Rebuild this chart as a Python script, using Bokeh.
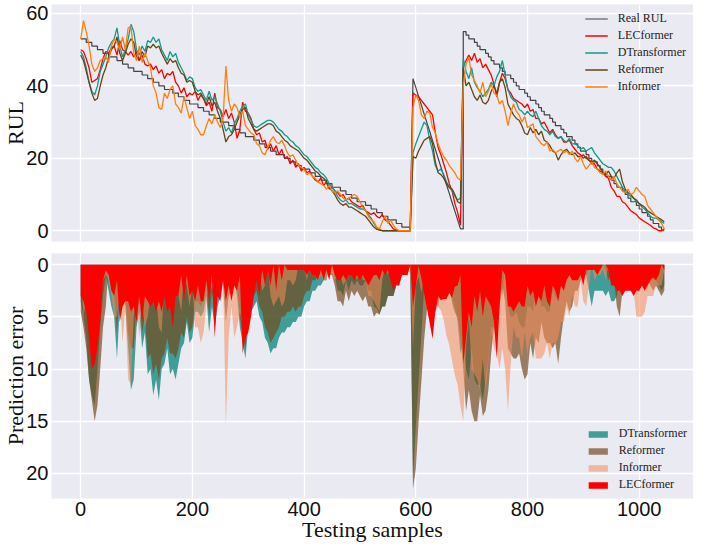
import numpy as np
from bokeh.plotting import figure
from bokeh.models import Range1d, FixedTicker, Legend, LegendItem, ColumnDataSource
from bokeh.layouts import column
from bokeh.embed import file_html
from bokeh.resources import INLINE

# ---------------- data ----------------
samples = list(range(0, 1046, 5))          # testing sample index
engine_first_sample = [0, 595, 685]        # where each test engine starts
x_ticks = [0, 200, 400, 600, 800, 1000]
rul_ticks = [0, 20, 40, 60]
err_ticks = [0, 5, 10, 15, 20]

real_rul = [
    53, 53, 52, 52, 51, 51, 50, 50, 49, 49,
    48, 48, 48, 47, 47, 46, 46, 45, 45, 44,
    44, 44, 43, 43, 42, 42, 41, 41, 40, 40,
    39, 39, 39, 38, 38, 37, 37, 36, 36, 35,
    35, 35, 34, 34, 33, 33, 32, 32, 31, 31,
    30, 30, 30, 29, 29, 28, 28, 27, 27, 26,
    26, 26, 25, 25, 24, 24, 23, 23, 22, 22,
    21, 21, 21, 20, 20, 19, 19, 18, 18, 17,
    17, 17, 16, 16, 15, 15, 14, 14, 13, 13,
    12, 12, 12, 11, 11, 10, 10, 9, 9, 8,
    8, 8, 7, 7, 6, 6, 5, 5, 4, 4,
    3, 3, 3, 2, 2, 1, 1, 1, 0, 42,
    39.6, 37.1, 34.7, 32.2, 29.8, 27.4, 24.9, 22.5, 20.0, 17.6,
    15.2, 12.7, 10.3, 7.8, 5.4, 3.0, 0.5, 55, 54, 53,
    53, 52, 51, 50, 50, 49, 48, 47, 46, 46,
    45, 44, 43, 43, 42, 41, 40, 39, 39, 38,
    37, 36, 36, 35, 34, 33, 32, 32, 31, 30,
    29, 29, 28, 27, 26, 26, 25, 24, 23, 22,
    22, 21, 20, 19, 19, 18, 17, 16, 15, 15,
    14, 13, 12, 12, 11, 10, 9, 8, 8, 7,
    6, 5, 5, 4, 3, 2, 2, 1, 0, 0,
]

lecformer = [
    50, 49.5, 47.5, 45, 41, 41.5, 42, 44.5, 47.5, 49.5,
    49, 50.5, 51, 48.5, 52.5, 50, 49.5, 48.5, 49.5, 48,
    49.5, 47, 48.5, 46, 45.5, 46, 44.5, 45.5, 43.5, 44.5,
    42, 43.5, 43, 44, 41, 40, 38, 39.5, 37, 38,
    37.5, 38.5, 36, 37.5, 36.5, 34.5, 35.5, 33, 38, 34,
    33.5, 31.5, 33.5, 31, 32.5, 30, 25.5, 28, 35.5, 33,
    32.5, 31, 28, 26.5, 27, 24.5, 25, 22.5, 24, 22,
    23.5, 21, 22.5, 20, 20.5, 18.5, 19.5, 17.5, 18.5, 16.5,
    17.5, 16, 16.5, 15, 14, 13.5, 14.5, 12.5, 13.5, 11.5,
    12, 11, 10.5, 9.5, 10, 8.5, 9, 8, 7.5, 7,
    6.5, 7, 5.5, 5, 4.5, 5, 4, 3.5, 4.5, 3,
    2.5, 1.5, 0.5, 0.2, 0, 0, 0, 0, 0, 38,
    37.5, 37, 36, 35, 34, 33, 32, 27, 23, 21,
    18.5, 16, 13, 11, 7.5, 5, 1.5, 45.5, 47, 48.5,
    47, 49, 46.5, 47.5, 45, 46, 44.5, 43, 40.5, 37,
    41, 43.5, 42, 39, 38, 36.5, 36, 35.5, 35, 34,
    35, 33, 33.5, 31, 31, 29.5, 30, 28.5, 27, 28,
    26.5, 25.5, 26, 24.5, 24.5, 25, 23.5, 22.5, 21.5, 21,
    20, 20.5, 19.5, 18.5, 18.5, 17, 16.5, 16, 15, 14.5,
    12, 11, 9.5, 9.5, 8, 7.5, 6.5, 5.5, 5, 4.5,
    3.5, 3, 2.5, 2, 1.5, 0.8, 0.5, 0, 0, 0.5,
]

dtransformer = [
    49.5, 48, 45, 41, 38.5, 37.5, 40, 44, 46, 48,
    50.5, 52, 53, 56, 51, 48, 50, 53, 57, 55,
    50, 48.5, 51, 49.5, 52.5, 52, 53.5, 52, 53, 50,
    48.5, 47, 49.5, 48, 49, 46.5, 45, 43.5, 41.5, 42.5,
    42, 39.5, 38.5, 39, 37.5, 36, 38.5, 36, 37, 35,
    33, 30, 27.5, 28.5, 27, 29.5, 31, 33, 34.5, 35,
    32, 30.5, 29, 28.5, 29, 29.5, 30, 30.5, 30.5, 30,
    29, 28, 27.5, 26.5, 26, 25, 24.5, 23.5, 23, 22,
    21, 20.5, 19.5, 18.5, 17.5, 17, 16, 15.5, 14.5, 13,
    12, 11, 9.5, 8.5, 8, 8.5, 7.5, 7.5, 7, 6.5,
    6, 6, 5.5, 4.5, 3.5, 2, 0.8, 0.3, 0, 0,
    0, 0, 0, 0, 0, 0, 0, 0, 0, 21.5,
    24, 26, 28, 30, 29, 25, 22, 18, 16.5, 17,
    15.5, 13.5, 12, 11, 9.5, 8.5, 9, 47.5, 44, 42,
    45, 41, 39.5, 38.5, 37, 38, 39, 41, 40, 42.5,
    44, 47, 43, 39, 37, 36, 35.5, 33.5, 33, 32,
    33, 32, 31.5, 33, 31, 29, 28, 27.5, 26.5, 27.5,
    26, 25.5, 26, 25, 24.5, 25.5, 24, 24, 23.5, 22.5,
    23, 22, 22.5, 23, 21.5, 20.5, 19.5, 18.5, 18, 17.5,
    17.5, 16.5, 15, 13.5, 12, 11, 10, 9.5, 9, 8,
    7.5, 6.5, 6, 5, 4, 3.5, 3.5, 3, 2.5, 2,
]

reformer = [
    48.5, 47, 44, 41, 38, 36, 36.5, 40, 43, 45,
    48, 50, 51, 53.5, 49, 47, 49, 51.5, 53, 52,
    48, 47, 49.5, 48, 51, 50.5, 51.5, 50.5, 51, 49,
    47.5, 46, 47.5, 46.5, 47, 45, 43.5, 43, 41, 41.5,
    41, 38.5, 37.5, 38, 36.5, 35, 37, 34.5, 35.5, 33,
    31, 28, 24.5, 26, 26.5, 28, 30, 32, 33.5, 34,
    31, 29.5, 28, 27.5, 28, 28.5, 29, 29.5, 29.5, 29,
    27.5, 27, 26, 25, 24.5, 23.5, 23, 22.5, 22, 21,
    20, 19.5, 18.5, 17.5, 16.5, 16, 15, 14.5, 13.5, 12,
    11, 10, 8.5, 7.5, 7, 7.5, 6.5, 6.5, 6, 5.5,
    5, 4.5, 4, 3, 2, 1, 0.4, 0.2, 0, 0,
    0, 0, 0, 0, 0, 0, 0, 0, 0, 20.5,
    20, 22, 23.5, 25, 25.5, 26, 24, 19, 16, 15.5,
    14.5, 13, 12, 11.5, 10, 8, 7.5, 45, 40, 41,
    39, 37, 36, 37.5, 35.5, 35, 36, 38.5, 40, 38,
    41, 42, 39.5, 35, 33.5, 32, 31, 30.5, 29, 27,
    26.5, 28.5, 27, 28, 26.5, 27.5, 25, 24.5, 23.5, 22,
    21.5, 19.5, 21, 22, 22.5, 21.5, 21, 21.5, 20.5, 20.5,
    21, 20, 19.5, 19, 19.5, 18.5, 17.5, 16, 15.5, 16.5,
    15, 14.5, 16, 17, 13.5, 11.5, 10.5, 10, 9, 8.5,
    7.5, 7, 6.5, 5.5, 5, 4.5, 4, 3.5, 3, 2.5,
]

informer = [
    53, 58, 55, 51, 46, 44, 45, 47, 47.5, 48,
    46.5, 51, 53, 52, 50, 53.5, 50, 56, 56.5, 49,
    47, 51, 46.5, 49, 47, 45, 40, 38, 34, 33.5,
    38, 36.5, 39, 40, 35, 34, 32.5, 37, 34, 31,
    33, 29, 28, 26.5, 26.5, 29, 31, 29.5, 32, 30,
    28.5, 31, 45.5, 36, 33, 35, 34, 31.5, 33, 29,
    28, 27, 26.5, 24, 23.5, 21.5, 21, 23, 25, 26,
    24.5, 24, 25, 23.5, 21.5, 20.5, 21, 19.5, 18, 17.5,
    17, 15.5, 16, 15, 14.5, 13.5, 13, 12.5, 11.5, 12.5,
    11, 10.5, 11, 10, 9, 8.5, 9, 9.5, 10, 9.5,
    8, 6.5, 5.5, 4, 3, 2.5, 1, 0.5, 2.5, 4,
    2, 3, 1.5, 0.5, 0, 0, 0, 0, 0, 34,
    37.5, 36, 32, 31, 33, 32.5, 28.5, 27, 24, 22,
    20.5, 19.5, 18, 17, 16, 14.5, 14, 40, 46, 48,
    43, 41.5, 40, 38, 41, 37, 38.5, 40.5, 38, 37.5,
    35, 36, 33, 29, 32.5, 35, 33, 32, 30, 31.5,
    28.5, 29, 29.5, 26, 25, 24, 23.5, 24.5, 22, 22.5,
    21.5, 22, 22.5, 21.5, 22, 21, 22, 20, 19, 20.5,
    18.5, 17, 18, 19, 17.5, 17, 16, 15.5, 16.5, 15,
    14, 15, 13, 12, 11, 10.5, 11.5, 10, 10.5, 12,
    11, 10, 9.5, 7, 6, 5, 4, 3, 2, 0.5,
]

# ---------------- derived table ----------------
x = np.array(samples, dtype=float)
real = np.array(real_rul, dtype=float)
src = ColumnDataSource(dict(
    x=x, real=real,
    lec=np.array(lecformer, dtype=float),
    dtr=np.array(dtransformer, dtype=float),
    ref=np.array(reformer, dtype=float),
    inf=np.array(informer, dtype=float),
    zero=np.zeros_like(x),
    e_lec=np.abs(np.array(lecformer) - real),
    e_dtr=np.abs(np.array(dtransformer) - real),
    e_ref=np.abs(np.array(reformer) - real),
    e_inf=np.abs(np.array(informer) - real),
))

i2 = samples.index(engine_first_sample[1])
i3 = samples.index(engine_first_sample[2])
eng1 = ColumnDataSource(dict(x=x[:i2], y=real[:i2]))
eng2 = ColumnDataSource(dict(x=x[i2 - 1:i3], y=real[i2 - 1:i3]))
eng3 = ColumnDataSource(dict(x=x[i3 - 1:], y=real[i3 - 1:]))

BG = "#EAEAF2"
W = 693


def style(p):
    p.background_fill_color = BG
    p.border_fill_color = "white"
    p.outline_line_color = None
    p.xgrid.ticker = FixedTicker(ticks=x_ticks)
    p.grid.grid_line_color = "white"
    p.grid.grid_line_width = 1.3
    p.grid.minor_grid_line_color = None
    for ax in p.axis:
        ax.axis_line_color = None
        ax.major_tick_line_color = None
        ax.minor_tick_line_color = None
        ax.major_tick_out = 0
        ax.major_tick_in = 0
        ax.major_label_text_font = "Liberation Sans"
        ax.major_label_text_font_size = "20px"
        ax.major_label_text_color = "#111111"
        ax.axis_label_text_font = "Liberation Serif"
        ax.axis_label_text_font_size = "22px"
        ax.axis_label_text_font_style = "normal"
        ax.axis_label_text_color = "#111111"
        ax.major_label_standoff = 3
        ax.axis_label_standoff = -5


x_range = Range1d(-52.25, 1097.25)

# ---------------- top panel ----------------
p1 = figure(width=W, height=246, x_range=x_range, y_range=Range1d(-2.975, 62.475),
            output_backend="svg", toolbar_location=None,
            min_border_left=30, min_border_right=0, min_border_top=4, min_border_bottom=5)
style(p1)
p1.xaxis.visible = False
p1.yaxis.ticker = FixedTicker(ticks=rul_ticks)
p1.yaxis.axis_label = "RUL"

real_kw = dict(line_color="#262626", line_alpha=0.85, line_width=1.2)
r_real1 = p1.step("x", "y", source=eng1, mode="after", **real_kw)
r_real2 = p1.line("x", "y", source=eng2, **real_kw)
r_real3 = p1.step("x", "y", source=eng3, mode="after", **real_kw)
r_lec = p1.line("x", "lec", source=src, line_color="#ff0000", line_width=1.3)
r_dtr = p1.line("x", "dtr", source=src, line_color="#0f9a8a", line_width=1.3)
r_ref = p1.line("x", "ref", source=src, line_color="#654516", line_width=1.3)
r_inf = p1.line("x", "inf", source=src, line_color="#ff7f0e", line_width=1.3)

leg1 = Legend(items=[
    LegendItem(label="Real RUL", renderers=[r_real2]),
    LegendItem(label="LECformer", renderers=[r_lec]),
    LegendItem(label="DTransformer", renderers=[r_dtr]),
    LegendItem(label="Reformer", renderers=[r_ref]),
    LegendItem(label="Informer", renderers=[r_inf]),
], location="top_right", background_fill_alpha=0, border_line_alpha=0,
    label_text_font="Liberation Serif", label_text_font_size="12px",
    label_text_color="#222222", glyph_width=23, glyph_height=13,
    label_height=13, spacing=2, padding=4, margin=3, label_standoff=10)
p1.add_layout(leg1)

# ---------------- bottom panel ----------------
p2 = figure(width=W, height=298, x_range=x_range, y_range=Range1d(22.4, -1.07),
            output_backend="svg", toolbar_location=None,
            min_border_left=30, min_border_right=0, min_border_top=7, min_border_bottom=20)
style(p2)
p2.xaxis.ticker = FixedTicker(ticks=x_ticks)
p2.yaxis.ticker = FixedTicker(ticks=err_ticks)
p2.yaxis.axis_label = "Prediction error"
p2.xaxis.axis_label = "Testing samples"
p2.xaxis.axis_label_standoff = -2

a_dtr = p2.varea(x="x", y1="zero", y2="e_dtr", source=src, fill_color="#008073", fill_alpha=0.72)
a_ref = p2.varea(x="x", y1="zero", y2="e_ref", source=src, fill_color="#734819", fill_alpha=0.68)
a_inf = p2.varea(x="x", y1="zero", y2="e_inf", source=src, fill_color="#f58c5a", fill_alpha=0.55)
a_lec = p2.varea(x="x", y1="zero", y2="e_lec", source=src, fill_color="#ff0000", fill_alpha=1.0)

leg2 = Legend(items=[
    LegendItem(label="DTransformer", renderers=[a_dtr]),
    LegendItem(label="Reformer", renderers=[a_ref]),
    LegendItem(label="Informer", renderers=[a_inf]),
    LegendItem(label="LECformer", renderers=[a_lec]),
], location="bottom_right", background_fill_alpha=0, border_line_alpha=0,
    label_text_font="Liberation Serif", label_text_font_size="12px",
    label_text_color="#222222", glyph_width=24, glyph_height=8,
    label_height=13, spacing=2, padding=3, margin=3, label_standoff=9)
p2.add_layout(leg2)

layout = column(p1, p2)
open("out.html", "w").write(file_html(layout, INLINE))
